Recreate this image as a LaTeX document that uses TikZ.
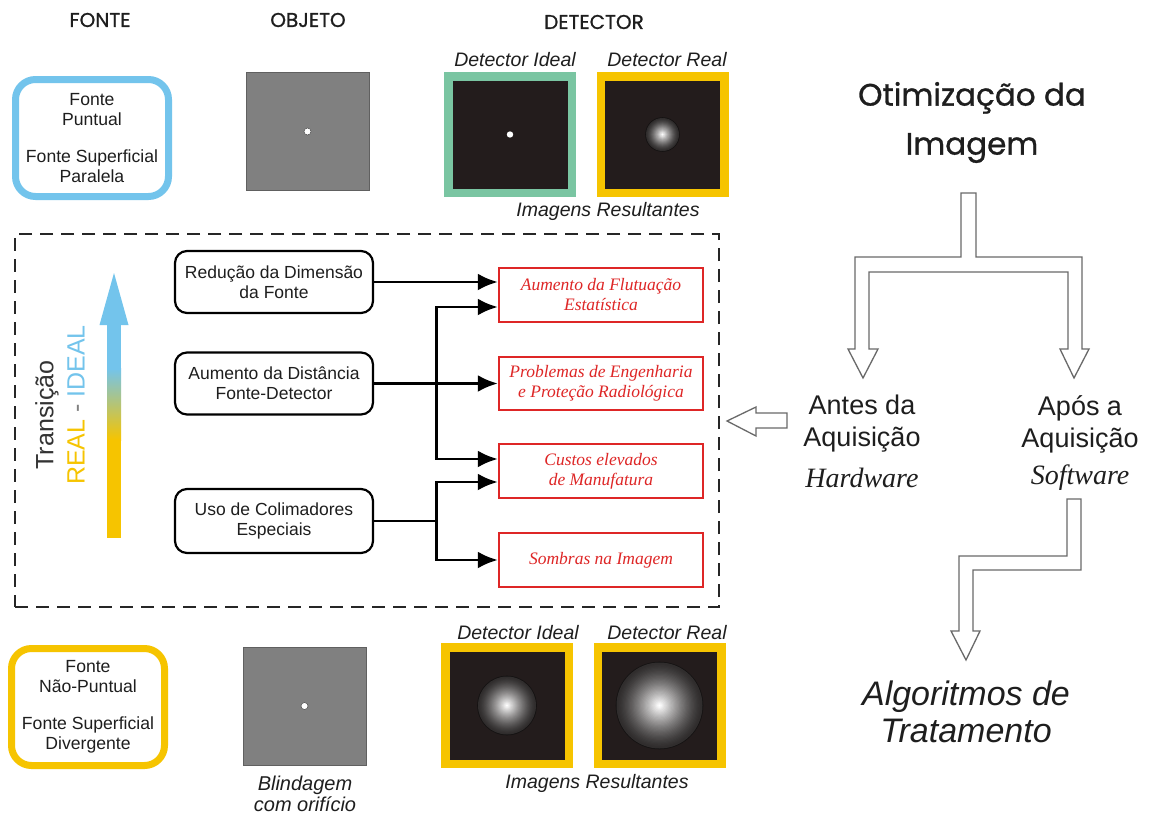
\documentclass[tikz,border=0pt]{standalone}
\usepackage{fontspec}
\setmainfont{Liberation Sans}
\newfontfamily\tnr{Liberation Serif}
\newfontfamily\comic{Poppins}[FakeBold=0.9]
\usetikzlibrary{arrows.meta,calc}
\definecolor{blueC}{RGB}{115,196,236}
\definecolor{yellowC}{RGB}{246,196,0}
\definecolor{greenC}{RGB}{122,197,162}
\definecolor{redC}{RGB}{222,38,38}
\definecolor{detblack}{RGB}{35,28,28}
\definecolor{balledge}{RGB}{20,18,18}
\definecolor{ballbase}{RGB}{48,45,45}
\definecolor{objgray}{RGB}{128,128,128}
\definecolor{arrowgray}{RGB}{105,105,105}
\definecolor{txt}{RGB}{30,30,30}
\tikzset{
  lbox/.style={draw=black, line width=2.2, rounded corners=12, minimum width=198, minimum height=62, align=center, text=txt, font=\fontsize{17.5}{20}\selectfont, inner sep=0},
  rbox/.style={draw=redC, line width=2.5, minimum width=204, minimum height=54, align=center, text=redC, font=\tnr\itshape\fontsize{17.5}{20}\selectfont, inner sep=0},
  conn/.style={line width=2.8, -{Latex[length=20,width=17]}},
  srcbox/.style={line width=7, rounded corners=20, minimum width=153, minimum height=117, align=center, text=txt, font=\fontsize{17.6}{20.5}\selectfont, inner sep=0, fill=white},
  objbox/.style={fill=objgray, draw=objgray!75!black, line width=0.8, minimum width=123, minimum height=118, inner sep=0},
  detbox/.style={fill=detblack, line width=8.5, minimum width=123.5, minimum height=116.5, inner sep=0},
  header/.style={font=\comic\fontsize{20}{24}\selectfont, text=txt},
  itlabel/.style={font=\itshape\fontsize{19.5}{22}\selectfont, text=txt},
  harrow/.style={draw=arrowgray, fill=white, line width=1.3, line join=miter},
}
\begin{document}
\begin{tikzpicture}[x=1pt,y=-1pt]
\useasboundingbox (0,0) rectangle (1153,816);
\fill[white] (0,0) rectangle (1153,816);

% headers
\node[header] (hF) at (100,20) {FONTE};
\node[header] (hO) at (308,20) {OBJETO};
\node[header] (hD) at (594,22) {DETECTOR};

% top row
\node[srcbox, draw=blueC] (src1) at (92,138) {Fonte\\Puntual\\[16pt]Fonte Superficial\\Paralela};
\node[objbox] (obj1) at (307.5,131.5) {};
\filldraw[fill=white, draw=objgray!60!black, line width=0.5] (obj1.center) circle (3.5);
\node[detbox, draw=greenC] (di1) at (510,134.5) {};
\node[detbox, draw=yellowC] (dr1) at (662.5,134.5) {};
\fill[white] (di1.center) circle (3.2);
\node[itlabel] (ldi1) at (515,60) {Detector Ideal};
\node[itlabel] (ldr1) at (667,60) {Detector Real};
\node[itlabel] (ir1) at (608,211) {Imagens Resultantes};

% bottom row
\node[srcbox, draw=yellowC] (src2) at (88,707) {Fonte\\Não-Puntual\\[16pt]Fonte Superficial\\Divergente};
\node[objbox] (obj2) at (304.5,706) {};
\filldraw[fill=white, draw=objgray!60!black, line width=0.5] (obj2.center) circle (3.5);
\node[detbox, draw=yellowC] (di2) at (507,705.5) {};
\node[detbox, draw=yellowC] (dr2) at (659.5,705.5) {};
\node[itlabel] (ldi2) at (518,633) {Detector Ideal};
\node[itlabel] (ldr2) at (667,633) {Detector Real};
\node[itlabel] (ir2) at (597,783) {Imagens Resultantes};
\node[itlabel, align=center, font=\itshape\fontsize{20}{21.5}\selectfont] (blind) at (305,794) {Blindagem\\com orifício};

% shaded spots
\foreach \n/\r in {dr1/16.5, di2/29, dr2/43}{
  \fill[balledge] (\n.center) circle (\r+0.8);
  \foreach \i in {0,...,34}{
    \pgfmathsetmacro\f{1-\i/35}
    \pgfmathsetmacro\p{100*(\i/34)^1.4}
    \fill[white!\p!ballbase] (\n.center) circle ({\r*\f});
  }
}

% dashed frame
\node[draw=black!85, dash pattern=on 13pt off 8pt, line width=2.5, minimum width=704, minimum height=373, inner sep=0] (frame) at (367,420.5) {};

% gradient arrow
\fill[yellowC] (107,438) rectangle (121,538);
\shade[top color=blueC, bottom color=yellowC] (107,368) rectangle (121,440);
\fill[blueC] (107,320) rectangle (121,370);
\fill[blueC] (99.5,325) -- (114,273) -- (128.5,325) -- cycle;
\node[rotate=90, font=\fontsize{25}{28}\selectfont, text=black!80] (tr) at (47,415) {Transição};
\node[rotate=90, font=\fontsize{25}{28}\selectfont] (ri) at (76,405) {\textcolor{yellowC}{REAL} \textcolor{gray}{-} \textcolor{blueC}{IDEAL}};

% left boxes
\node[lbox] (b1) at (274,282) {Redução da Dimensão\\da Fonte};
\node[lbox] (b2) at (274,383.5) {Aumento da Distância\\Fonte-Detector};
\node[lbox, minimum height=64] (b3) at (274,521) {Uso de Colimadores\\Especiais};

% red boxes
\node[rbox] (r1) at (601,295) {Aumento da Flutuação\\Estatística};
\node[rbox, minimum height=53] (r2) at (601,383.5) {Problemas de Engenharia\\e Proteção Radiológica};
\node[rbox] (r3) at (601,471) {Custos elevados\\de Manufatura};
\node[rbox] (r4) at (601,560) {Sombras na Imagem};

% connectors
\coordinate (j1) at ($(b2.east)+(62,0)$);
\coordinate (j2) at ($(b3.east)+(62,0)$);
\draw[conn] (b1.east) -- (b1.east -| r1.west);
\draw[conn] (b2.east) -- (b2.east -| r2.west);
\draw[conn] (j1) |- ($(r1.west)+(0,12)$);
\draw[conn] (j1) |- ($(r3.west)+(0,-12)$);
\draw[line width=2.8] (b3.east) -- (j2);
\draw[conn] (j2) |- ($(r3.west)+(0,11)$);
\draw[conn] (j2) |- (r4.west);

% right side
\node[font=\comic\fontsize{31}{49}\selectfont, align=center, text=txt] (opt) at (972,122.5) {Otimização da\\Imagem};
\node[font=\fontsize{27}{32}\selectfont, align=center, text=txt] (antes) at (862,424) {Antes da\\Aquisição};
\node[font=\tnr\itshape\fontsize{28}{32}\selectfont, text=txt] (hw) at (862,478) {Hardware};
\node[font=\fontsize{27}{32}\selectfont, align=center, text=txt] (apos) at (1080,424) {Após a\\Aquisição};
\node[font=\tnr\itshape\fontsize{28}{32}\selectfont, text=txt] (sw) at (1080,478) {Software};
\node[font=\itshape\fontsize{34}{37}\selectfont, align=center, text=txt] (alg) at (966,711.5) {Algoritmos de\\Tratamento};

% hollow arrows
\draw[harrow] (961,193) -- (976,193) -- (976,257) -- (1082,257) -- (1082,349) -- (1089,349) -- (1074,378) -- (1060,349) -- (1068,349) -- (1068,272) -- (869,272) -- (869,349) -- (878,349) -- (863,378) -- (848,349) -- (855,349) -- (855,257) -- (961,257) -- cycle;
\draw[harrow] (727,421) -- (756,407) -- (756,413) -- (787,413) -- (787,428) -- (756,428) -- (756,436) -- cycle;
\draw[harrow] (1067,499) -- (1081,499) -- (1081,570) -- (973,570) -- (973,631) -- (980,631) -- (966,660) -- (951,631) -- (959,631) -- (959,556) -- (1067,556) -- cycle;
\end{tikzpicture}
\end{document}
